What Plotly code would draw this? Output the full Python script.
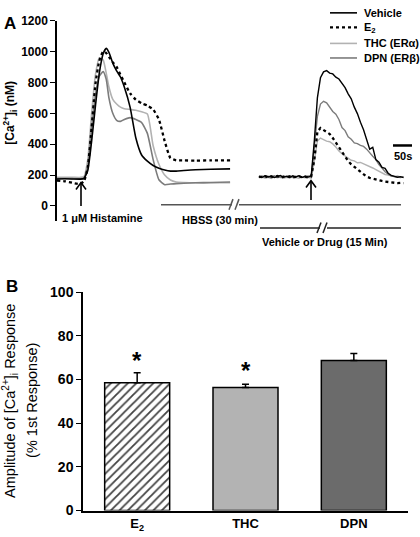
import plotly.graph_objects as go

# ---------------- Panel A data (time in s, [Ca2+]i in nM) ----------------
t1 = [0, 20, 40, 60, 70, 80, 90, 100, 110, 120, 128, 135, 145, 155, 165, 175,
      190, 205, 220, 235, 250, 265, 280, 295, 310, 330, 360, 400, 450]
veh1 = [175, 176, 175, 174, 178, 230, 420, 650, 860, 985, 1020, 995, 925, 875, 835, 770,
        640, 440, 330, 290, 262, 245, 233, 226, 226, 230, 235, 238, 240]
e2_1 = [165, 160, 150, 142, 160, 250, 510, 790, 940, 1000, 990, 965, 930, 900, 850, 800,
        730, 688, 665, 650, 625, 560, 420, 310, 296, 295, 294, 295, 295]
thc1 = [185, 186, 186, 185, 190, 300, 600, 850, 960, 945, 860, 770, 690, 660, 640, 630,
        625, 620, 610, 595, 390, 270, 200, 168, 155, 152, 150, 150, 150]
dpn1 = [178, 178, 177, 176, 180, 260, 500, 720, 840, 870, 820, 700, 600, 555, 548, 560,
        572, 560, 540, 470, 300, 170, 138, 142, 145, 147, 150, 152, 155]

t2 = [525, 533, 541, 549, 557, 565, 573, 581, 589, 597, 605, 613, 621, 629, 637, 645,
      653, 661, 669, 677, 685, 693, 701, 709, 717, 725, 733, 741, 749, 757, 765, 773,
      781, 789, 797, 805, 813, 821, 829, 837, 845, 853, 861, 869, 877, 885, 893, 901]
veh2 = [192, 185, 196, 188, 194, 184, 191, 197, 186, 193, 185, 195, 188, 196, 184, 192, 187, 196,
        420, 700, 830, 868, 876, 860, 855, 834, 822, 793, 766, 726, 694, 640, 598, 542, 494, 430,
        368, 380, 300, 284, 250, 244, 212, 198, 190, 186, 190, 184]
e2_2 = [190, 186, 193, 185, 191, 188, 194, 183, 190, 187, 192, 185, 189, 193, 186, 190, 185, 192,
        300, 480, 505, 490, 478, 466, 440, 410, 380, 345, 315, 290, 270, 254, 234, 216, 202, 190,
        182, 176, 172, 166, 162, 158, 155, 152, 150, 148, 150, 148]
thc2 = [182, 188, 180, 186, 178, 189, 183, 187, 179, 185, 181, 188, 184, 180, 187, 182, 186, 181,
        290, 420, 440, 428, 420, 416, 402, 382, 356, 338, 322, 306, 296, 292, 280, 282, 274, 266,
        254, 246, 236, 226, 216, 204, 200, 194, 190, 194, 188, 190]
dpn2 = [188, 194, 186, 192, 183, 195, 189, 185, 193, 187, 196, 184, 190, 194, 186, 191, 195, 188,
        380, 580, 660, 678, 668, 642, 612, 594, 560, 508, 488, 448, 432, 408, 404, 392, 386, 368,
        348, 322, 300, 268, 246, 222, 206, 194, 190, 186, 184, 190]

a_yticks = [0, 200, 400, 600, 800, 1000, 1200]

# ---------------- Panel B data ----------------
cats = ["E2", "THC", "DPN"]
cat_labels = ["E<sub>2</sub>", "THC", "DPN"]
amp = [58.6, 56.4, 68.7]
amp_err = [4.5, 1.5, 3.3]
b_yticks = [0, 20, 40, 60, 80, 100]

FONT = "Liberation Sans, Arial, sans-serif"
W, H = 420, 537


def px(x):
    return x / W


def py(y):
    return 1 - y / H


fig = go.Figure()

styles = {
    "Vehicle": dict(color="#000000", width=1.6, dash="solid"),
    "E2": dict(color="#000000", width=2.3, dash="dot"),
    "THC": dict(color="#b2b2b2", width=1.6, dash="solid"),
    "DPN": dict(color="#7c7c7c", width=1.6, dash="solid"),
}
first = [("THC", thc1), ("DPN", dpn1), ("Vehicle", veh1), ("E2", e2_1)]
second = [("THC", thc2), ("DPN", dpn2), ("Vehicle", veh2), ("E2", e2_2)]
for name, ys in first:
    fig.add_trace(go.Scatter(x=t1, y=ys, mode="lines", name=name,
                             line=dict(**styles[name], shape="spline", smoothing=0.5),
                             xaxis="x", yaxis="y", hoverinfo="skip"))
for name, ys in second:
    st = dict(styles[name])
    if name != "E2":
        st["width"] = 1.4
    fig.add_trace(go.Scatter(x=t2, y=ys, mode="lines", name=name, line=st,
                             xaxis="x", yaxis="y", hoverinfo="skip"))

# Panel B bars
fig.add_trace(go.Bar(
    x=cats, y=amp, xaxis="x2", yaxis="y2", width=0.6,
    marker=dict(color=["#ffffff", "#b3b3b3", "#6b6b6b"],
                line=dict(color="#000000", width=1.5),
                pattern=dict(shape=["/", "", ""], fgcolor="#000000", bgcolor="#ffffff",
                             fgopacity=1, size=6, solidity=0.3)),
    error_y=dict(type="data", symmetric=False, array=amp_err, arrayminus=[0, 0, 0],
                 color="#000000", thickness=1.5, width=3.5),
    hoverinfo="skip"))

shapes = []
annotations = []


def line(x0, y0, x1, y1, color="#000000", width=1.5):
    shapes.append(dict(type="line", xref="paper", yref="paper", x0=px(x0), y0=py(y0), x1=px(x1), y1=py(y1),
                       line=dict(color=color, width=width)))


def text(x, y, s, size=11, xanchor="left", bold=True, angle=0, color="#000000"):
    annotations.append(dict(xref="paper", yref="paper", x=px(x), y=py(y), text=s, showarrow=False,
                            xanchor=xanchor, yanchor="middle", textangle=angle,
                            font=dict(family=FONT, size=size, color=color,
                                      weight="bold" if bold else "normal")))


# Legend
leg = [("Vehicle", "Vehicle", 5), ("E2", "E<sub>2</sub>", 20), ("THC", "THC (ERα)", 36.5),
       ("DPN", "DPN (ERβ)", 51.5)]
for key, label, yy in leg:
    st = styles[key]
    shapes.append(dict(type="line", xref="paper", yref="paper", x0=px(330), x1=px(357), y0=py(yy), y1=py(yy),
                       line=dict(color=st["color"], width=st["width"], dash=st["dash"])))
    text(362, yy + (1 if key == "E2" else 0), label, size=11)

# Arrows (histamine application)
for ax, ytop, ybot in [(81, 180, 204), (311, 178, 198)]:
    line(ax, ybot, ax, ytop + 1, width=1.6)
    shapes.append(dict(type="path", xref="paper", yref="paper",
                       path=f"M {px(ax-5)} {py(ytop+7)} L {px(ax)} {py(ytop)} L {px(ax+5)} {py(ytop+7)}",
                       line=dict(color="#000000", width=1.6)))

# HBSS line with break
gcol = "#555555"
line(161, 202.7, 232, 202.7, color=gcol)
line(239, 202.7, 401, 202.7, color=gcol)
line(229, 208, 233, 197, color=gcol)
line(235, 208, 239, 197, color=gcol)
# Vehicle or Drug line with break
line(260, 226.7, 320, 226.7, color="#222222")
line(327, 226.7, 401, 226.7, color="#222222")
line(317, 232, 321, 221, color="#222222")
line(323, 232, 327, 221, color="#222222")

# Scale bar
line(393, 141.7, 412, 141.7, width=2.5)
text(402.5, 152.5, "50s", size=11, xanchor="center")

text(60, 216, "1 μM Histamine", size=11)
text(180, 219, "HBSS (30 min)", size=11)
text(260, 241.5, "Vehicle or Drug (15 Min)", size=11)

# Panel labels
text(2, 16, "A", size=17)
text(4, 287.5, "B", size=17)

# Axis titles
text(10, 108, "[Ca<sup>2+</sup>]<sub>i</sub> (nM)", size=12, xanchor="center", angle=-90)
text(10, 405, "Amplitude of [Ca<sup>2+</sup>]<sub>i</sub> Response", size=14.5, xanchor="center",
     angle=-90, bold=False)
text(32, 405, "(% 1st Response)", size=14.5, xanchor="center", angle=-90, bold=False)

# Asterisks
for cat, yv in [("E2", 68.8), ("THC", 64.0)]:
    annotations.append(dict(xref="x2", yref="y2", x=cat, y=yv, text="*", showarrow=False,
                            xanchor="center", yanchor="middle",
                            font=dict(family=FONT, size=24, color="#000000", weight="bold")))

fig.update_layout(
    width=W, height=H, margin=dict(l=0, r=0, t=0, b=0),
    paper_bgcolor="#ffffff", plot_bgcolor="#ffffff", showlegend=False,
    xaxis=dict(domain=[px(57), px(416)], range=[0, 933.4], visible=False),
    yaxis=dict(domain=[py(220), py(13)], range=[-100, 1200], tickvals=a_yticks,
               showline=True, linecolor="#000000", linewidth=1.5, ticks="outside", ticklen=5,
               tickwidth=1.2, tickcolor="#000000", showgrid=False, zeroline=False,
               tickfont=dict(family=FONT, size=12, color="#000000", weight="bold")),
    xaxis2=dict(domain=[px(83), px(408)], anchor="y2", showline=True, linecolor="#000000", linewidth=1.5,
                ticks="", tickvals=cats, ticktext=cat_labels, showgrid=False, range=[-0.5, 2.5],
                tickfont=dict(family=FONT, size=13, color="#000000", weight="bold")),
    yaxis2=dict(domain=[py(518), py(293)], anchor="x2", range=[0, 100], tickvals=b_yticks,
                showline=True, linecolor="#000000", linewidth=1.5, ticks="outside", ticklen=5,
                tickwidth=1.2, tickcolor="#000000", showgrid=False, zeroline=False,
                tickfont=dict(family=FONT, size=14, color="#000000", weight="bold")),
    shapes=shapes, annotations=annotations,
)

fig.write_html("out.html", config={"displayModeBar": False},
               post_script="document.body.style.margin='0px';document.body.style.overflow='hidden';")
